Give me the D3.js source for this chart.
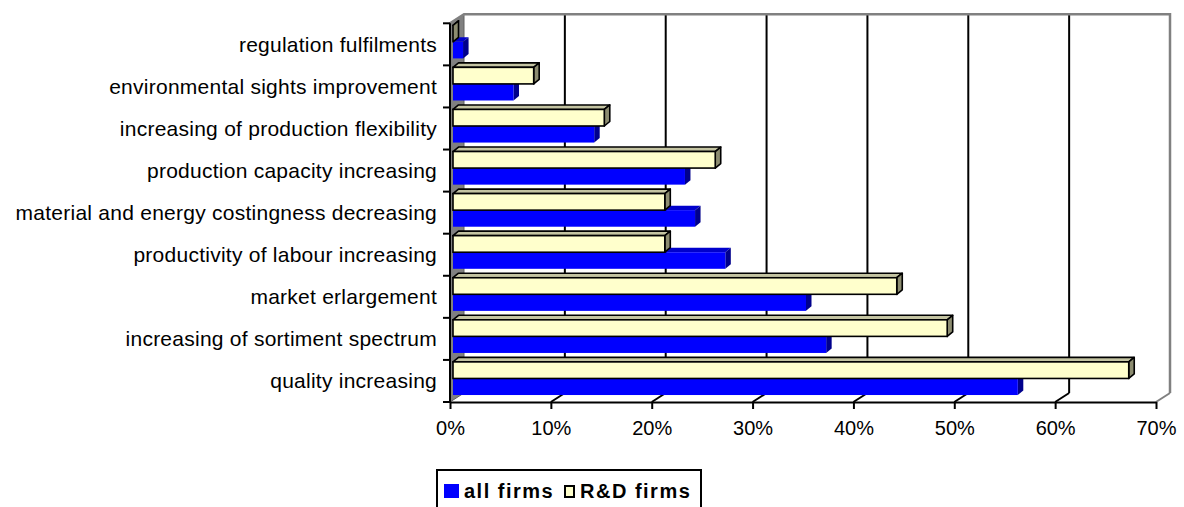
<!DOCTYPE html>
<html>
<head>
<meta charset="utf-8">
<script src="https://cdn.jsdelivr.net/npm/d3@7"></script>
<style>
  body { margin: 0; background: #fff; }
  text { font-family: Arial, 'Liberation Sans', sans-serif; }
</style>
</head>
<body>
<script>
'use strict'

var categories = [
  'regulation fulfilments',
  'environmental sights improvement',
  'increasing of production flexibility',
  'production capacity increasing',
  'material and energy costingness decreasing',
  'productivity of labour increasing',
  'market erlargement',
  'increasing of sortiment spectrum',
  'quality increasing'
]
var allFirms = [1, 6, 14, 23, 24, 27, 35, 37, 56]
var rdFirms  = [0, 8, 15, 26, 21, 21, 44, 49, 67]
var xTicks   = [0, 10, 20, 30, 40, 50, 60, 70]
var seriesNames = ['all firms', 'R&D firms']

var width = 1184, height = 507
var wall     = { dx: 14, dy: -9 }     // depth of the walls / floor
var barOff   = { dx: 3, dy: -2.5 }    // bars stand a bit behind the front plane
var barDepth = { dx: 5.5, dy: -4.5 }

var colors = {
  'all firms': { front: '#0000ff', top: '#0000cc', side: '#00008c', stroke: 'none' },
  'R&D firms': { front: '#ffffcc', top: '#c4c4a2', side: '#8c8c70', stroke: '#000' }
}

var svg = d3.select('body').append('svg')
  .attr('width', width)
  .attr('height', height)

var x = d3.scaleLinear().domain([0, 70]).range([450, 1156])
var y = d3.scaleBand().domain(categories).range([23.3, 402])
var sub = d3.scaleBand().domain(['R&D firms', 'all firms'])
  .range([0, y.bandwidth()]).paddingOuter(0.27)

var pTop = y.range()[0], pBottom = y.range()[1]
var pLeft = x.range()[0], pRight = x.range()[1]

function pts (arr) { return arr.map(function (p) { return p.join(',') }).join(' ') }

// walls
var walls = svg.append('g')
walls.append('polygon')
  .attr('points', pts([[pLeft + wall.dx, pTop + wall.dy], [pRight + wall.dx, pTop + wall.dy],
    [pRight + wall.dx, pBottom + wall.dy], [pLeft + wall.dx, pBottom + wall.dy]]))
  .attr('fill', '#fff')
walls.append('polygon')
  .attr('points', pts([[pLeft, pTop], [pLeft + wall.dx, pTop + wall.dy],
    [pLeft + wall.dx, pBottom + wall.dy], [pLeft, pBottom]]))
  .attr('fill', '#808080')
  .attr('stroke', '#606060')
  .attr('stroke-width', 1)

// gridlines on the back wall and floor
walls.selectAll('.grid')
  .data(xTicks.slice(1, -1))
  .enter().append('line')
  .attr('class', 'grid')
  .attr('x1', function (d) { return x(d) + wall.dx })
  .attr('x2', function (d) { return x(d) + wall.dx })
  .attr('y1', pTop + wall.dy)
  .attr('y2', pBottom + wall.dy)
  .attr('stroke', '#000')
  .attr('stroke-width', 2)
walls.selectAll('.floor')
  .data(xTicks.slice(1))
  .enter().append('line')
  .attr('class', 'floor')
  .attr('x1', function (d) { return x(d) })
  .attr('x2', function (d) { return x(d) + wall.dx })
  .attr('y1', pBottom)
  .attr('y2', pBottom + wall.dy)
  .attr('stroke', function (d) { return d === 70 ? '#808080' : '#000' })
  .attr('stroke-width', 2)

walls.append('polyline')
  .attr('points', pts([[pLeft, pTop], [pLeft + wall.dx, pTop + wall.dy], [pRight + wall.dx, pTop + wall.dy],
    [pRight + wall.dx, pBottom + wall.dy]]))
  .attr('fill', 'none')
  .attr('stroke', '#808080')
  .attr('stroke-width', 2.5)

// bars
var rows = categories.map(function (c, i) {
  return { cat: c, values: [
    { series: 'all firms', value: allFirms[i] },
    { series: 'R&D firms', value: rdFirms[i] }
  ] }
})

function box (g, d, cat) {
  var c = colors[d.series]
  var x0 = x(0) + barOff.dx
  var x1 = x(d.value) + barOff.dx
  var y0 = y(cat) + sub(d.series) + barOff.dy
  var h = sub.bandwidth()
  var dx = barDepth.dx, dy = barDepth.dy
  var sw = c.stroke === 'none' ? 0 : 1.6

  g.append('polygon')
    .attr('points', pts([[x0, y0], [x1, y0], [x1 + dx, y0 + dy], [x0 + dx, y0 + dy]]))
    .attr('fill', c.top).attr('stroke', c.stroke).attr('stroke-width', sw)
    .attr('stroke-linejoin', 'round')
  g.append('polygon')
    .attr('points', pts([[x1, y0], [x1 + dx, y0 + dy], [x1 + dx, y0 + h + dy], [x1, y0 + h]]))
    .attr('fill', c.side).attr('stroke', c.stroke).attr('stroke-width', sw)
    .attr('stroke-linejoin', 'round')
  g.append('rect')
    .attr('x', x0).attr('y', y0)
    .attr('width', x1 - x0).attr('height', h)
    .attr('fill', c.front).attr('stroke', c.stroke).attr('stroke-width', sw)
}

svg.append('g').selectAll('g')
  .data(rows)
  .enter().append('g')
  .each(function (r) {
    var g = d3.select(this)
    r.values.forEach(function (d) { box(g, d, r.cat) })
  })

// x axis
var xAxis = svg.append('g')
  .attr('transform', 'translate(0,' + pBottom + ')')
  .call(d3.axisBottom(x).tickValues(xTicks)
    .tickFormat(function (d) { return d + '%' })
    .tickSize(7).tickSizeOuter(0).tickPadding(12))
xAxis.select('.domain').attr('stroke', '#000').attr('stroke-width', 2)
xAxis.selectAll('.tick line').attr('stroke', '#000').attr('stroke-width', 2)
xAxis.selectAll('.tick text')
  .attr('fill', '#000')
  .style('font-size', '20px')
  .style('font-family', 'Arial, "Liberation Sans", sans-serif')

// y axis (ticks sit on the band boundaries)
var yAxis = svg.append('g')
yAxis.append('line')
  .attr('x1', pLeft).attr('x2', pLeft)
  .attr('y1', pTop).attr('y2', pBottom)
  .attr('stroke', '#000').attr('stroke-width', 2)
yAxis.selectAll('.ytick')
  .data(categories.map(function (c) { return y(c) }).concat([pBottom]))
  .enter().append('line')
  .attr('class', 'ytick')
  .attr('x1', pLeft - 7).attr('x2', pLeft)
  .attr('y1', function (d) { return d })
  .attr('y2', function (d) { return d })
  .attr('stroke', '#000').attr('stroke-width', 2)
yAxis.selectAll('.ylabel')
  .data(categories)
  .enter().append('text')
  .attr('class', 'ylabel')
  .attr('x', pLeft - 13)
  .attr('y', function (d) { return y(d) + y.bandwidth() / 2 })
  .attr('dy', '0.35em')
  .attr('text-anchor', 'end')
  .style('font-size', '21px')
  .style('letter-spacing', '0.25px')
  .text(function (d) { return d })

// legend
var legend = svg.append('g')
legend.append('rect')
  .attr('x', 437).attr('y', 470)
  .attr('width', 264).attr('height', 60)
  .attr('fill', '#fff').attr('stroke', '#000').attr('stroke-width', 2)

var items = [
  { name: seriesNames[0], sx: 444, sy: 484, sw: 15, sh: 14, tx: 464 },
  { name: seriesNames[1], sx: 565, sy: 486, sw: 9, sh: 11, tx: 580 }
]
items.forEach(function (it) {
  var c = colors[it.name]
  legend.append('rect')
    .attr('x', it.sx).attr('y', it.sy)
    .attr('width', it.sw).attr('height', it.sh)
    .attr('fill', c.front)
    .attr('stroke', c.stroke).attr('stroke-width', 2)
  legend.append('text')
    .attr('x', it.tx).attr('y', 498)
    .style('font-size', '20px')
    .style('font-weight', 'bold')
    .style('letter-spacing', '1.5px')
    .text(it.name)
})
</script>
</body>
</html>
